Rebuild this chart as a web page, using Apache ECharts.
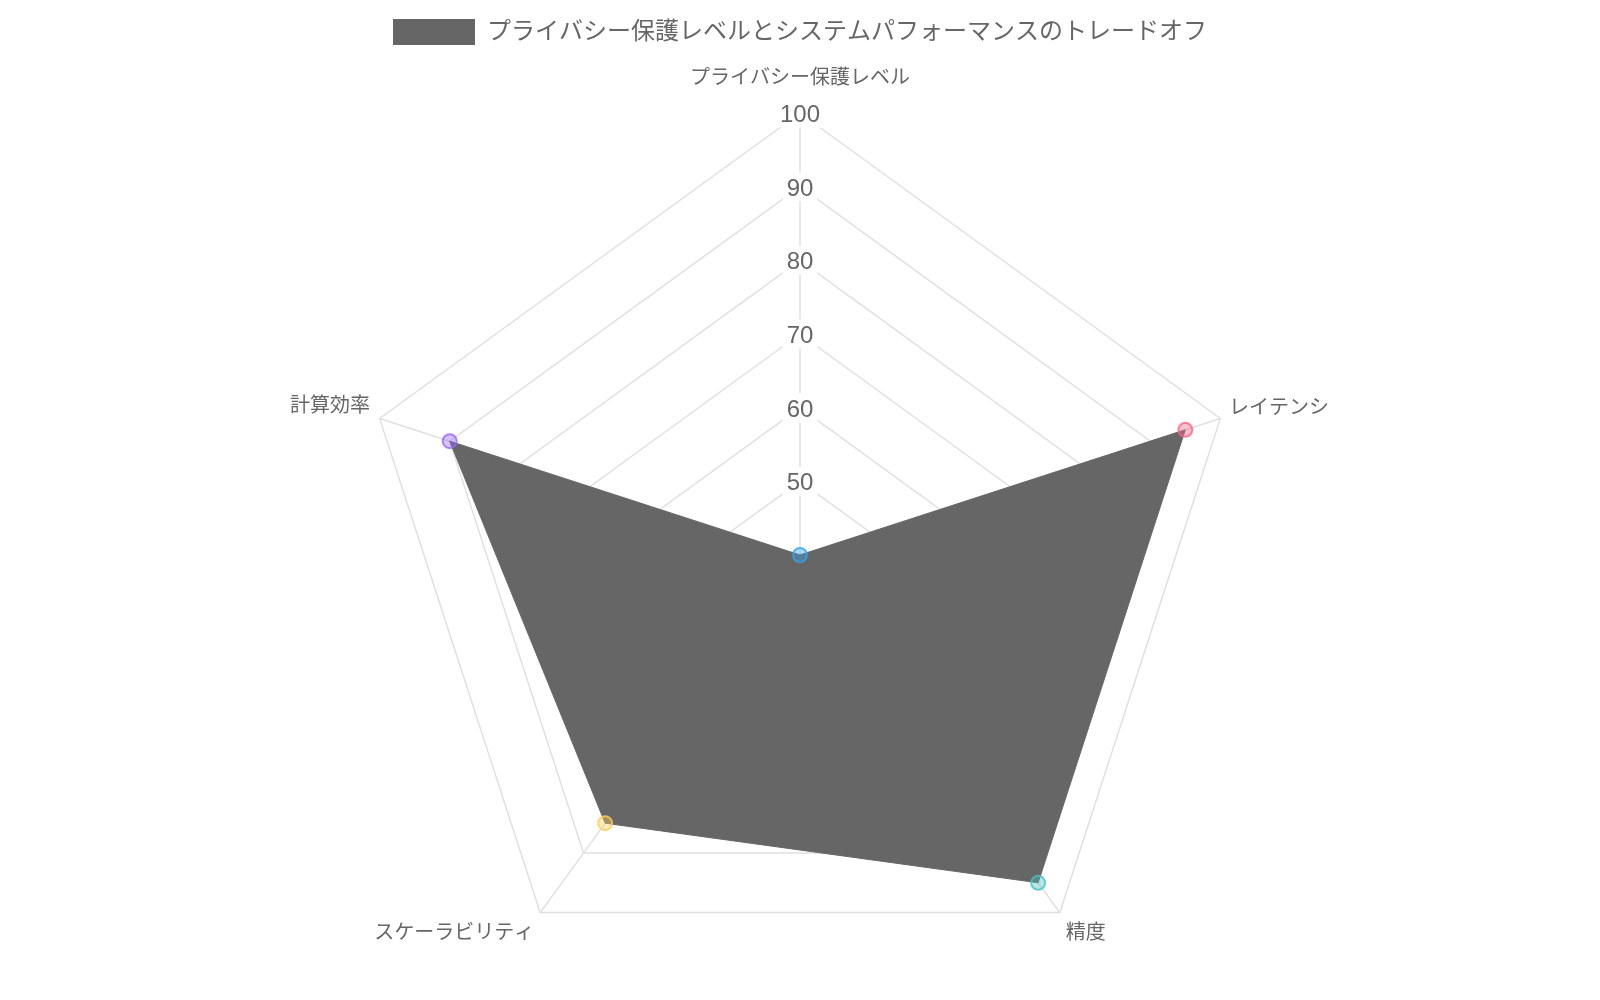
<!DOCTYPE html>
<html>
<head>
<meta charset="utf-8">
<script src="https://cdn.jsdelivr.net/npm/echarts@6/dist/echarts.min.js"></script>
<style>
  html, body { margin: 0; padding: 0; background: #fff; }
  #radar { width: 1600px; height: 1000px; }
</style>
</head>
<body>
<div id="radar"></div>
<script>
var seriesName = 'プライバシー保護レベルとシステムパフォーマンスのトレードオフ';
// axes in clockwise order starting from the top
var categories = ['プライバシー保護レベル', 'レイテンシ', '精度', 'スケーラビリティ', '計算効率'];
var values = [40, 95, 95, 85, 90];
var pointColors = ['54,162,235', '255,99,132', '75,192,192', '255,205,86', '153,102,255'];
var axisMin = 40;
var axisMax = 100;

var font = "'Liberation Sans', 'Noto Sans CJK JP', sans-serif";
var gridColor = '#e0e0e0';

// name placement tweaks per axis (gap from the vertex, extra padding)
var nameGaps = [25, 9, 10, 10, 10];
var namePads = [[0, 0, 0, 0], [0, 0, 14, 0], [26, 0, 0, 0], [26, 0, 0, 0], [0, 0, 18, 0]];

var nameRich = {};
categories.forEach(function (c, i) {
  nameRich['p' + i] = { color: '#666', fontSize: 20, fontFamily: font, padding: namePads[i] };
});

// radar goes counter-clockwise, so walk the categories backwards after the first
var order = [0, 4, 3, 2, 1];
var indicators = order.map(function (i) {
  var ind = { name: categories[i], min: axisMin, max: axisMax, nameGap: nameGaps[i] };
  if (i === 0) ind.axisLabel = { show: true };
  return ind;
});
var radarValues = order.map(function (i) { return values[i]; });

var chart = echarts.init(document.getElementById('radar'));
var option = {
  animation: false,
  textStyle: { fontFamily: font },
  legend: {
    top: 14,
    left: 388,
    itemWidth: 82,
    itemHeight: 26,
    icon: 'rect',
    textStyle: { fontSize: 24, color: '#666', fontFamily: font, padding: [0, 0, 0, 7] },
    data: [seriesName]
  },
  radar: {
    center: [800, 555],
    radius: 442,
    startAngle: 90,
    shape: 'polygon',
    splitNumber: 6,
    indicator: indicators,
    axisName: {
      color: '#666', fontSize: 20, fontFamily: font,
      formatter: function (name) {
        return '{p' + categories.indexOf(name) + '|' + name + '}';
      },
      rich: nameRich
    },
    axisLine: { lineStyle: { color: gridColor, width: 1.5 } },
    splitLine: { lineStyle: { color: gridColor, width: 1.5 } },
    splitArea: { show: false },
    axisTick: { show: false },
    axisLabel: {
      show: false,
      fontSize: 24,
      color: '#666',
      fontFamily: font,
      margin: 0,
      align: 'center',
      verticalAlign: 'middle',
      backgroundColor: '#fff',
      padding: [0, 4],
      showMinLabel: true,
      showMaxLabel: true,
      formatter: function (v) { return v === axisMin ? '' : '{t|' + v + '}'; },
      rich: {
        t: { fontSize: 24, color: '#666', fontFamily: font, padding: [5, 0, 0, 0] }
      }
    }
  },
  polar: { center: [800, 555], radius: 442 },
  angleAxis: {
    type: 'category',
    data: categories,
    startAngle: 90,
    clockwise: true,
    boundaryGap: false,
    show: false
  },
  radiusAxis: { min: axisMin, max: axisMax, show: false },
  series: [
    {
      name: seriesName,
      type: 'radar',
      symbol: 'none',
      itemStyle: { color: '#666' },
      lineStyle: { color: '#666', width: 1 },
      areaStyle: { color: '#666', opacity: 1 },
      data: [{ name: seriesName, value: radarValues }]
    },
    {
      type: 'scatter',
      coordinateSystem: 'polar',
      symbolSize: 14,
      data: values.map(function (v, i) {
        return {
          value: [v, i],
          itemStyle: {
            color: 'rgba(' + pointColors[i] + ',0.5)',
            borderColor: 'rgb(' + pointColors[i] + ')',
            borderWidth: 2
          }
        };
      })
    }
  ]
};
option && chart.setOption(option);
</script>
</body>
</html>
